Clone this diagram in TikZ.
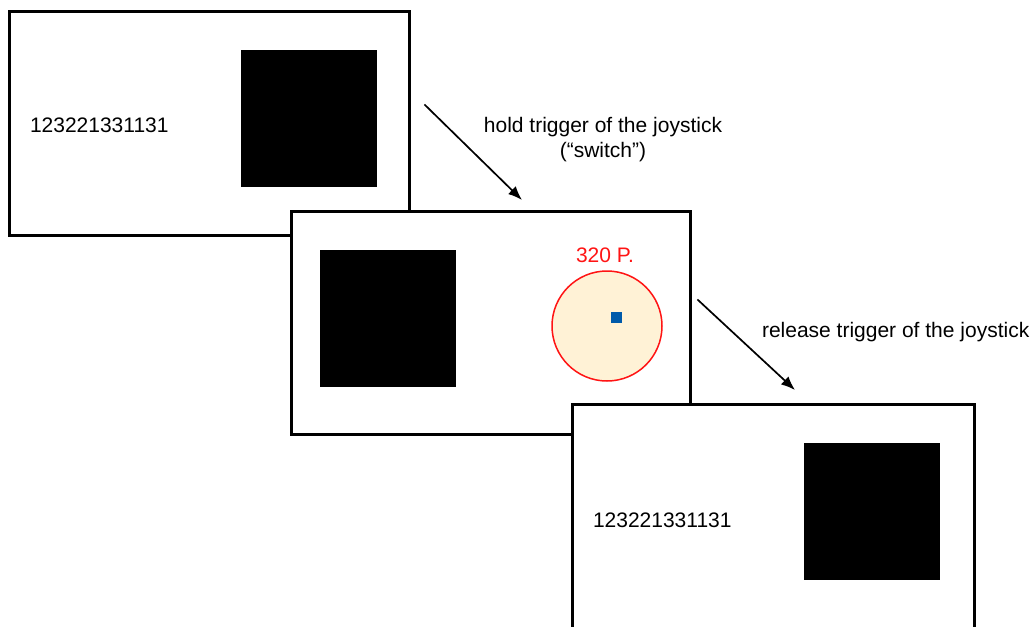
\documentclass[tikz,border=0pt]{standalone}
\usepackage{fontspec}
\setmainfont{Liberation Sans}
\usepackage{tikz}
\usetikzlibrary{arrows.meta}

\begin{document}
\begin{tikzpicture}[x=1pt,y=-1pt,line cap=rect,
		screen/.style={draw=black, line width=3.0pt, fill=white, minimum width=400pt, minimum height=223pt, inner sep=0, outer sep=0},
		stim/.style={fill=black, minimum width=136pt, minimum height=137pt, inner sep=0, outer sep=0},
		code/.style={inner sep=0, outer sep=0, anchor=west, font=\fontsize{21pt}{25pt}\selectfont},
		step arrow/.style={line width=1.7pt, -{Latex[length=14pt,width=11pt]}}]
				\definecolor{custcol_ff_0_0}{RGB}{255, 20, 20}
				\definecolor{custcol_ff_f2_d6}{RGB}{255, 242, 214}
				\definecolor{custcol_0_5a_aa}{RGB}{0, 90, 170}
				\clip (0.0,0.0) rectangle (1032.0,626.0);
				% first screen
				\node[screen] (screenA) at (209.0,123.5) {};
				\node[stim] (stimA) at (309.0,118.5) {};
				\node[code] (codeA) at (30.0,125.0) {123221331131};
				% second screen
				\node[screen, minimum width=399pt] (screenB) at (490.5,322.5) {};
				\node[stim] (stimB) at (387.5,318.0) {};
				\node[circle, draw=custcol_ff_0_0, line width=1.5pt, fill=custcol_ff_f2_d6, minimum size=110pt, inner sep=0] (target) at (607.0,326.0) {};
				\node[fill=custcol_0_5a_aa, minimum size=11pt, inner sep=0] (cursor) at (616.5,317.0) {};
				\node[inner sep=0, custcol_ff_0_0, font=\fontsize{21pt}{25pt}\selectfont] (points) at (605.0,255.0) {320 P.};
				% third screen
				\node[screen, minimum width=402pt, minimum height=228pt] (screenC) at (773.0,518.0) {};
				\node[stim] (stimC) at (872.0,511.0) {};
				\node[code] (codeC) at (593.0,520.0) {123221331131};
				% arrows
				\coordinate (holdStart) at (425.0,105.0);
				\coordinate (holdEnd) at (522.0,200.0);
				\draw[step arrow] (holdStart) -- (holdEnd);
				\node[inner sep=0, align=center, font=\fontsize{21pt}{25pt}\selectfont] (holdLabel) at (603.0,139.5) {hold trigger of the joystick\\(“switch”)};
				\coordinate (releaseStart) at (698.0,300.0);
				\coordinate (releaseEnd) at (795.0,390.0);
				\draw[step arrow] (releaseStart) -- (releaseEnd);
				\node[code] (releaseLabel) at (762.0,332.0) {release trigger of the joystick};
			\end{tikzpicture}
\end{document}
